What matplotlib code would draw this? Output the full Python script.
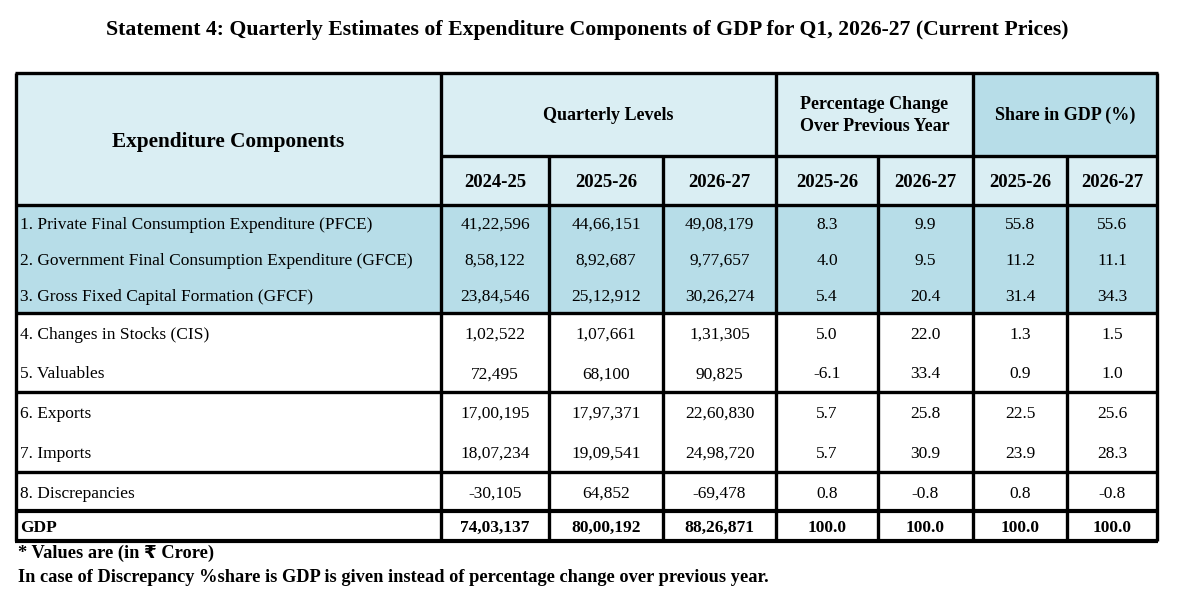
import matplotlib
matplotlib.use("Agg")
import matplotlib.pyplot as plt
from matplotlib.patches import Rectangle

plt.rcParams['font.family'] = ['Liberation Serif', 'DejaVu Sans']

# ---- data ----
title = "Statement 4: Quarterly Estimates of Expenditure Components of GDP for Q1, 2026-27 (Current Prices)"
components = [
    "1. Private Final Consumption Expenditure (PFCE)",
    "2. Government Final Consumption Expenditure (GFCE)",
    "3. Gross Fixed Capital Formation (GFCF)",
    "4. Changes in Stocks (CIS)",
    "5. Valuables",
    "6. Exports",
    "7. Imports",
    "8. Discrepancies",
    "GDP",
]
level_2024_25 = ["41,22,596", "8,58,122", "23,84,546", "1,02,522", "72,495",
                 "17,00,195", "18,07,234", "-30,105", "74,03,137"]
level_2025_26 = ["44,66,151", "8,92,687", "25,12,912", "1,07,661", "68,100",
                 "17,97,371", "19,09,541", "64,852", "80,00,192"]
level_2026_27 = ["49,08,179", "9,77,657", "30,26,274", "1,31,305", "90,825",
                 "22,60,830", "24,98,720", "-69,478", "88,26,871"]
pct_2025_26 = ["8.3", "4.0", "5.4", "5.0", "-6.1", "5.7", "5.7", "0.8", "100.0"]
pct_2026_27 = ["9.9", "9.5", "20.4", "22.0", "33.4", "25.8", "30.9", "-0.8", "100.0"]
share_2025_26 = ["55.8", "11.2", "31.4", "1.3", "0.9", "22.5", "23.9", "0.8", "100.0"]
share_2026_27 = ["55.6", "11.1", "34.3", "1.5", "1.0", "25.6", "28.3", "-0.8", "100.0"]
group_headers = ["Quarterly Levels", "Percentage Change\nOver Previous Year", "Share in GDP (%)"]
year_headers = ["2024-25", "2025-26", "2026-27", "2025-26", "2026-27", "2025-26", "2026-27"]
footnotes = ["* Values are (in \u20b9 Crore)",
             "In case of Discrepancy %share is GDP is given instead of percentage change over previous year."]

columns = [level_2024_25, level_2025_26, level_2026_27,
           pct_2025_26, pct_2026_27, share_2025_26, share_2026_27]

# ---- layout (pixels) ----
W, H = 1181, 603
col_x = [16, 441, 549, 663, 776, 878, 973, 1067, 1157]
top, mid, hdr_bot = 73, 156, 205
row_h = [36, 36, 36, 39.5, 39.5, 40, 40, 39, 30]
shaded_rows = {0, 1, 2}
group_breaks = [3, 5, 7, 8]   # line above these row indices

light = '#DAEEF3'
mid_blue = '#B7DDE8'

fig = plt.figure(figsize=(W / 100, H / 100), dpi=100)
ax = fig.add_axes([0, 0, 1, 1])
ax.set_xlim(0, W)
ax.set_ylim(H, 0)
ax.axis('off')

# row boundaries
row_y = [hdr_bot]
for h in row_h:
    row_y.append(row_y[-1] + h)
bottom = row_y[-1]

# header backgrounds
ax.add_patch(Rectangle((col_x[0], top), col_x[-1] - col_x[0], hdr_bot - top,
                       facecolor=light, edgecolor='none'))
ax.add_patch(Rectangle((col_x[6], top), col_x[8] - col_x[6], mid - top,
                       facecolor=mid_blue, edgecolor='none'))
# shaded data rows
for i in shaded_rows:
    ax.add_patch(Rectangle((col_x[0], row_y[i]), col_x[-1] - col_x[0], row_h[i],
                           facecolor=mid_blue, edgecolor='none'))

# header text
ax.text((col_x[0] + col_x[1]) / 2, (top + hdr_bot) / 2 + 3, "Expenditure Components",
        ha='center', va='center', fontsize=15.3, fontweight='bold')
group_spans = [(1, 4), (4, 6), (6, 8)]
for (a, b), txt in zip(group_spans, group_headers):
    ax.text((col_x[a] + col_x[b]) / 2, (top + mid) / 2 + 1, txt, ha='center', va='center',
            fontsize=13, fontweight='bold', linespacing=1.45)
for j, txt in enumerate(year_headers):
    ax.text((col_x[j + 1] + col_x[j + 2]) / 2, (mid + hdr_bot) / 2 + 2, txt,
            ha='center', va='center', fontsize=13.5, fontweight='bold')

# body text
for i, name in enumerate(components):
    cy = (row_y[i] + row_y[i + 1]) / 2 + 2
    bold = 'bold' if name == "GDP" else 'normal'
    ax.text(col_x[0] + 4, cy, name, ha='left', va='center', fontsize=12.5, fontweight=bold)
    for j, col in enumerate(columns):
        ax.text((col_x[j + 1] + col_x[j + 2]) / 2, cy, col[i], ha='center', va='center',
                fontsize=12.5, fontweight=bold)

# grid lines
lw = 2.4
lc = 'black'
for y in [top, hdr_bot] + [row_y[i] for i in group_breaks] + [bottom]:
    w = 3.0 if y in (row_y[8], bottom) else lw
    ax.plot([col_x[0] - 1, col_x[-1] + 1], [y, y], color=lc, lw=w, solid_capstyle='butt')
ax.plot([col_x[1], col_x[-1]], [mid, mid], color=lc, lw=lw, solid_capstyle='butt')
for k, x in enumerate(col_x):
    y0 = top if k in (0, 1, 4, 6, 8) else mid
    ax.plot([x, x], [y0, bottom], color=lc, lw=lw, solid_capstyle='butt')

# title and footnotes
ax.text(W / 2 - 3, 30, title, ha='center', va='center', fontsize=15.7, fontweight='bold')
ax.text(18, 553, footnotes[0], ha='left', va='center', fontsize=13.2, fontweight='bold')
ax.text(18, 578, footnotes[1], ha='left', va='center', fontsize=13.2, fontweight='bold')

fig.savefig("out.png", dpi=100)
